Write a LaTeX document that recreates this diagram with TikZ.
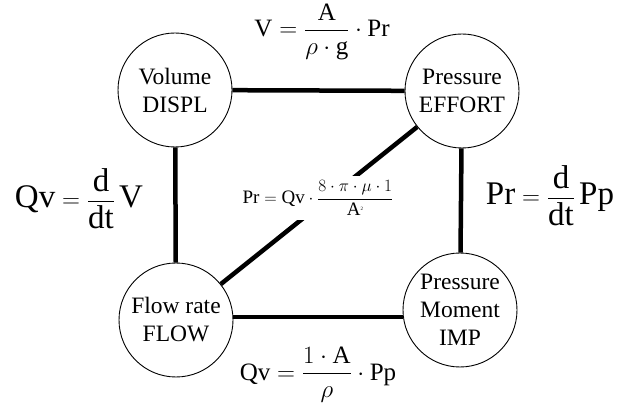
\documentclass[tikz,border=0pt]{standalone}
\usepackage{amsmath}
\usepackage{fontspec}
\setmainfont{Liberation Serif}
\usetikzlibrary{positioning}
\tikzset{
  quantity/.style={
    draw=black,
    circle,
    line width=0.9pt,
    fill=white,
    minimum size=114pt,
    inner sep=0pt,
    align=center,
    font=\fontsize{23.5}{28}\selectfont
  },
  link/.style={line width=4.5pt},
  sideeq/.style={anchor=base, inner sep=0pt, font=\fontsize{33}{38}\selectfont},
  edgeeq/.style={anchor=base, inner sep=0pt, font=\fontsize{25}{30}\selectfont},
  mideq/.style={fill=white, inner sep=5pt, font=\fontsize{19}{23}\selectfont}
}

\begin{document}
\begin{tikzpicture}[x=1pt, y=-1pt]
  \useasboundingbox (0,0) rectangle (629,403);
  % the four quantities
  \node[quantity] (vol)  at (175,90)  {Volume\\DISPL};
  \node[quantity] (eff)  at (462,91)  {Pressure\\EFFORT};
  \node[quantity] (flow) at (176,320) {Flow rate\\FLOW};
  \node[quantity] (imp)  at (460,310) {Pressure\\Moment\\IMP};
  % connections
  \draw[link] (vol) -- (eff);
  \draw[link] (vol) -- (flow);
  \draw[link] (eff) -- (imp);
  \draw[link] (flow.3) -- (flow.3 -| imp.west);
  \draw[link] (eff) -- (flow);
  % relations
  \node[edgeeq] (veq)  at (322,37)  {$\mathrm{V}=\dfrac{\mathrm{A}}{\rho\cdot\mathrm{g}}\cdot\mathrm{Pr}$};
  \node[edgeeq] (qeq)  at (318,380) {$\mathrm{Qv}=\dfrac{1\cdot\mathrm{A}}{\rho}\cdot\mathrm{Pp}$};
  \node[sideeq] (deq)  at (79,208)  {$\mathrm{Qv}=\dfrac{\mathrm{d}}{\mathrm{dt}}\,\mathrm{V}$};
  \node[sideeq] (peq)  at (550,205) {$\mathrm{Pr}=\dfrac{\mathrm{d}}{\mathrm{dt}}\,\mathrm{Pp}$};
  \node[mideq]  (reqn) at (318,198) {$\mathrm{Pr}=\mathrm{Qv}\cdot\dfrac{8\cdot\pi\cdot\mu\cdot 1}{\mathrm{A}^{\mbox{\tiny 2}}}$};
\end{tikzpicture}
\end{document}
